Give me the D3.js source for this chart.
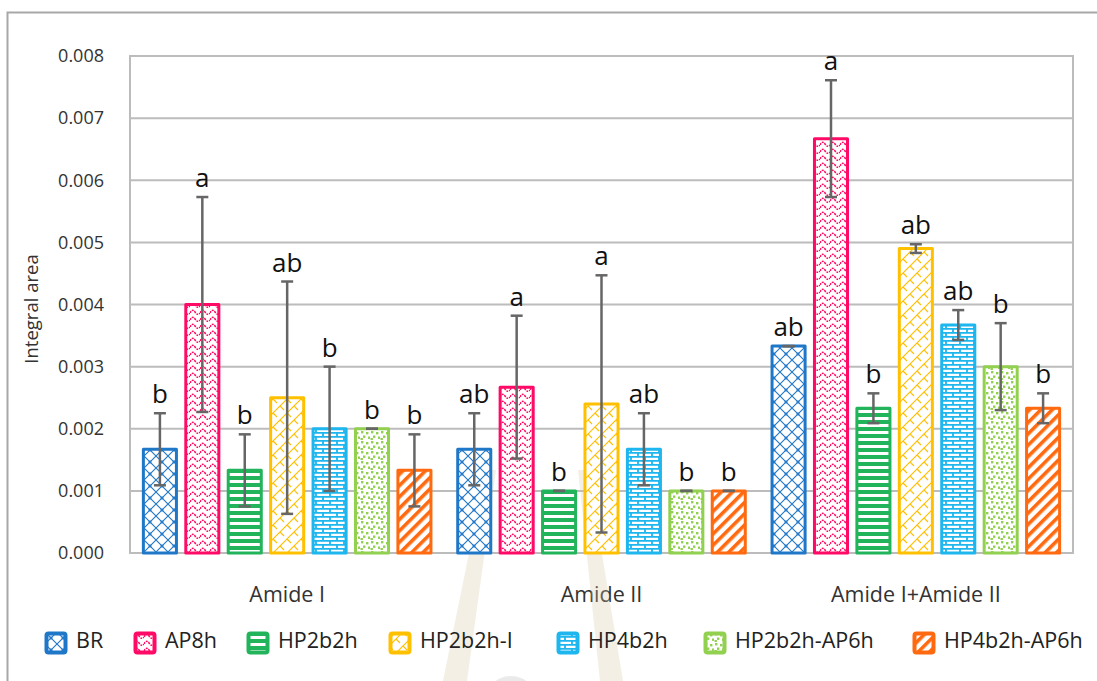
<!DOCTYPE html>
<html>
<head>
<meta charset="utf-8">
<script src="https://cdn.jsdelivr.net/npm/d3@7/dist/d3.min.js"></script>
<style>
  html, body { margin: 0; padding: 0; background: #ffffff; }
  svg { display: block; }
  text { font-family: "Open Sans", "Noto Sans", sans-serif; }
</style>
</head>
<body>
<svg id="chart" width="1097" height="681"></svg>
<script>
// Band groups and series
const groups = ["Amide I", "Amide II", "Amide I+Amide II"];
const series = ["BR", "AP8h", "HP2b2h", "HP2b2h-I", "HP4b2h", "HP2b2h-AP6h", "HP4b2h-AP6h"];
const seriesColors = ["#1f77c8", "#ff0a66", "#22b45a", "#ffc000", "#1db6ee", "#92d050", "#ff6a10"];

// Mean integral area, standard deviation and significance letters per band
const amideI        = [0.00167, 0.00400, 0.00133, 0.00250, 0.00200, 0.00200, 0.00133];
const amideISd      = [0.00058, 0.00173, 0.00058, 0.00187, 0.00100, 0.00000, 0.00058];
const amideILetters = ["b", "a", "b", "ab", "b", "b", "b"];

const amideII        = [0.00167, 0.00267, 0.00100, 0.00240, 0.00167, 0.00100, 0.00100];
const amideIISd      = [0.00058, 0.00115, 0.00000, 0.00207, 0.00058, 0.00000, 0.00000];
const amideIILetters = ["ab", "a", "b", "a", "ab", "b", "b"];

const amideSum        = [0.00333, 0.00667, 0.00233, 0.00490, 0.00367, 0.00300, 0.00233];
const amideSumSd      = [0.00000, 0.00094, 0.00024, 0.00007, 0.00024, 0.00070, 0.00024];
const amideSumLetters = ["ab", "a", "b", "ab", "ab", "b", "b"];

const yTicks = [0, 0.001, 0.002, 0.003, 0.004, 0.005, 0.006, 0.007, 0.008];
const yTitle = "Integral area";

// Rows built from the arrays above
const means = [amideI, amideII, amideSum];
const sds = [amideISd, amideIISd, amideSumSd];
const letters = [amideILetters, amideIILetters, amideSumLetters];
const rows = [];
groups.forEach((g, gi) => {
  series.forEach((s, si) => {
    rows.push({ group: g, series: s, si, value: means[gi][si], sd: sds[gi][si], letter: letters[gi][si] });
  });
});

const svg = d3.select("#chart");
const plot = { left: 130, right: 1073, top: 56, bottom: 553 };
// left edges of the legend entries
const legendSlots = [45, 134, 247, 389, 557, 704, 913];

const y = d3.scaleLinear().domain([0, 0.008]).range([plot.bottom, plot.top]);
const x0 = d3.scaleBand().domain(groups).range([plot.left, plot.right]);
const x1 = d3.scaleBand().domain(series).range([0, x0.bandwidth()])
  .paddingInner(0.15).paddingOuter(0.28);

// ---------- fill patterns ----------
const defs = svg.append("defs");
function pat(id, w, h, build, transform) {
  const p = defs.append("pattern").attr("id", id)
    .attr("patternUnits", "userSpaceOnUse").attr("width", w).attr("height", h);
  if (transform) p.attr("patternTransform", transform);
  p.append("rect").attr("width", w).attr("height", h).attr("fill", "#fff");
  build(p);
}
// BR: diagonal lattice
pat("p0", 12, 12, p => {
  p.append("path").attr("d", "M0,0L12,12M12,0L0,12M-1,11L1,13M11,-1L13,1")
    .attr("stroke", seriesColors[0]).attr("stroke-width", 1.1).attr("fill", "none");
  p.append("circle").attr("cx", 6).attr("cy", 6).attr("r", 1.2).attr("fill", "none")
    .attr("stroke", seriesColors[0]).attr("stroke-width", 0.8);
});
// AP8h: dotted waves
pat("p1", 10, 7, p => {
  p.append("path").attr("d", "M0,5 Q2.5,0 5,4 T10,5")
    .attr("stroke", seriesColors[1]).attr("stroke-width", 1.5).attr("fill", "none")
    .attr("stroke-dasharray", "2,1");
});
// HP2b2h: horizontal bars
pat("p2", 8, 7, p => {
  p.append("rect").attr("y", 0).attr("width", 8).attr("height", 4).attr("fill", seriesColors[2]);
});
// HP2b2h-I: diagonal weave
pat("p3", 14, 14, p => {
  p.append("path").attr("d", "M0,14L14,0M-2,2L2,-2M12,16L16,12")
    .attr("stroke", seriesColors[3]).attr("stroke-width", 1.2).attr("fill", "none");
  p.append("path").attr("d", "M0,0L4,4M7,7L11,11")
    .attr("stroke", seriesColors[3]).attr("stroke-width", 1.2).attr("fill", "none");
});
// HP4b2h: horizontal brick
pat("p4", 14, 8, p => {
  p.append("path").attr("d", "M0,0.8H14M0,4.8H14M1,0.8V4.8M8,4.8V8.8")
    .attr("stroke", seriesColors[4]).attr("stroke-width", 1.8).attr("fill", "none");
});
// HP2b2h-AP6h: confetti
pat("p5", 10, 10, p => {
  [[1, 1], [6, 2], [3, 5.5], [8, 6.5], [0.5, 8]].forEach(([a, b]) =>
    p.append("rect").attr("x", a).attr("y", b).attr("width", 2.4).attr("height", 2.4)
      .attr("fill", seriesColors[5]));
});
// HP4b2h-AP6h: wide upward diagonal
pat("p6", 8, 8, p => {
  p.append("rect").attr("width", 3.6).attr("height", 8).attr("fill", seriesColors[6]);
}, "rotate(45)");

// ---------- outer frame ----------
svg.append("path").attr("d", "M7.5,681V12.5H1097")
  .attr("fill", "none").attr("stroke", "#a8a8a8").attr("stroke-width", 2);

// ---------- grid & plot border ----------
svg.append("g").selectAll("line").data(yTicks).join("line")
  .attr("x1", plot.left).attr("x2", plot.right)
  .attr("y1", d => y(d)).attr("y2", d => y(d))
  .attr("stroke", "#bcbcbc").attr("stroke-width", 2);
svg.append("rect").attr("x", plot.left).attr("y", plot.top)
  .attr("width", plot.right - plot.left).attr("height", plot.bottom - plot.top)
  .attr("fill", "none").attr("stroke", "#bcbcbc").attr("stroke-width", 2);

// y axis labels
const yAxis = d3.axisLeft(y).tickValues(yTicks).tickFormat(d3.format(".3f")).tickSize(0).tickPadding(26);
const ya = svg.append("g").attr("transform", `translate(${plot.left},0)`).call(yAxis);
ya.select(".domain").remove();
ya.selectAll("text").attr("font-size", 18).attr("fill", "#333")
  .attr("font-family", "'Open Sans', sans-serif");

svg.append("text").attr("transform", "translate(38,309) rotate(-90)")
  .attr("text-anchor", "middle").attr("font-size", 18.5).attr("fill", "#333").text(yTitle);

// x category labels
const xAxis = d3.axisBottom(x0).tickSize(0).tickPadding(34);
const xa = svg.append("g").attr("transform", `translate(0,${plot.bottom})`).call(xAxis);
xa.select(".domain").remove();
xa.selectAll("text").attr("font-size", 21.5).attr("fill", "#333")
  .attr("font-family", "'Open Sans', sans-serif");

// ---------- faint background emblem ----------
const wm = svg.append("g").attr("opacity", 0.28);
wm.append("path").attr("d", "M443,681L467,681L496,470L486,470Z").attr("fill", "#d9c7a3");
wm.append("path").attr("d", "M600,681L623,681L588,470L578,470Z").attr("fill", "#d9c7a3");
wm.append("circle").attr("cx", 511).attr("cy", 702).attr("r", 26).attr("fill", "#b5b5b5");

// ---------- bars ----------
const barG = svg.append("g");
barG.selectAll("rect").data(rows).join("rect")
  .attr("x", d => x0(d.group) + x1(d.series) + 1.5)
  .attr("width", x1.bandwidth() - 3)
  .attr("y", d => y(d.value))
  .attr("height", d => y(0) - y(d.value))
  .attr("fill", d => `url(#p${d.si})`)
  .attr("stroke", d => seriesColors[d.si])
  .attr("stroke-width", 3)
  .attr("stroke-linejoin", "round");

// ---------- error bars ----------
const eb = svg.append("g").attr("stroke", "#666").attr("stroke-width", 2.5);
rows.forEach(d => {
  const cx = x0(d.group) + x1(d.series) + x1.bandwidth() / 2;
  const hi = y(d.value + d.sd), lo = y(d.value - d.sd);
  eb.append("line").attr("x1", cx).attr("x2", cx).attr("y1", hi).attr("y2", lo);
  eb.append("line").attr("x1", cx - 6).attr("x2", cx + 6).attr("y1", hi).attr("y2", hi);
  eb.append("line").attr("x1", cx - 6).attr("x2", cx + 6).attr("y1", lo).attr("y2", lo);
});

// ---------- significance letters ----------
svg.append("g").selectAll("text").data(rows).join("text")
  .attr("x", d => x0(d.group) + x1(d.series) + x1.bandwidth() / 2)
  .attr("y", d => y(d.value + d.sd) - 10)
  .attr("text-anchor", "middle").attr("font-size", 26).attr("fill", "#111")
  .text(d => d.letter);

// ---------- legend ----------
const legend = svg.append("g");
series.forEach((s, i) => {
  const g = legend.append("g").attr("transform", `translate(${legendSlots[i]},632)`);
  g.append("rect").attr("x", 1.5).attr("y", 1.5).attr("width", 19).attr("height", 19)
    .attr("rx", 2).attr("fill", `url(#p${i})`)
    .attr("stroke", seriesColors[i]).attr("stroke-width", 4);
  g.append("text").attr("x", 31).attr("y", 16)
    .attr("font-size", 21.5).attr("fill", "#222").text(s);
});
</script>
</body>
</html>
